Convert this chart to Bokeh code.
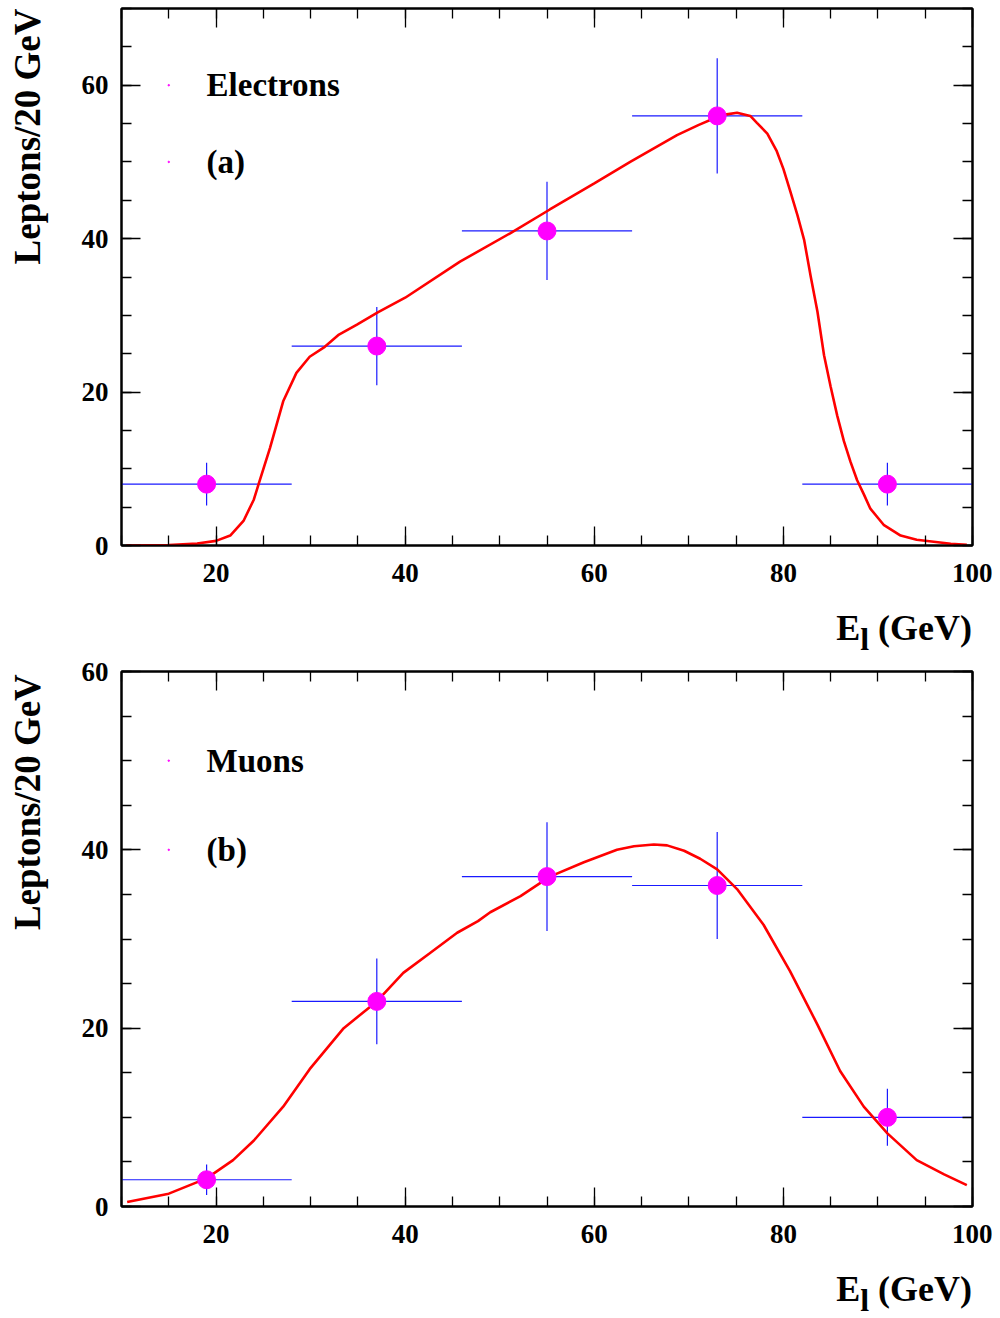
import numpy as np
from bokeh.plotting import figure
from bokeh.models import (LinearAxis, SingleIntervalTicker, Range1d, Label, Div,
                          CustomLabelingPolicy)
from bokeh.layouts import column, row
from bokeh.embed import file_html
from bokeh.resources import INLINE

# ---------------- data ----------------
bin_lo = [10, 28, 46, 64, 82]
bin_hi = [28, 46, 64, 82, 100]
bin_center = [19, 37, 55, 73, 91]

e_counts = [8, 26, 41, 56, 8]
e_err = [2.8, 5.1, 6.4, 7.5, 2.8]
mu_counts = [3, 23, 37, 36, 10]
mu_err = [1.7, 4.8, 6.1, 6.0, 3.2]

e_fit_x = [10.5, 15, 18, 20, 21.5, 22.9, 24.0, 24.5, 25.7, 27.1, 28.5, 29.9, 31.5, 33, 34.9,
           37.1, 40, 45.8, 51.1, 55.3, 60, 63.8, 68.75, 71, 73, 74, 75.1, 76.5, 77.2, 78.3,
           79.3, 80.0, 80.7, 81.5, 82.2, 82.9, 83.6, 84.3, 85.0, 85.7, 86.4, 87.1, 87.8, 88.5,
           89.2, 90.6, 92.4, 94.1, 97.7, 99.4]
e_fit_y = [0.0, 0.05, 0.25, 0.6, 1.3, 3.2, 6.0, 8.0, 12.7, 18.8, 22.5, 24.6, 25.9, 27.5, 28.8,
           30.4, 32.3, 37.0, 40.7, 43.8, 47.2, 50.0, 53.5, 54.8, 55.85, 56.2, 56.4, 56.0, 55.1, 53.7,
           51.4, 49.1, 46.3, 43.0, 39.8, 35.0, 30.5, 24.8, 20.7, 16.9, 13.6, 10.9, 8.5, 6.7,
           4.8, 2.7, 1.3, 0.75, 0.23, 0.1]

mu_fit_x = [10.6, 15, 19, 21.8, 24, 27.1, 29.9, 33.5, 37, 39.8, 42.6, 45.5, 47.7, 49, 52.2, 55.3,
            58.9, 62.4, 64.2, 66.3, 67.7, 69.5, 71.2, 73, 75.1, 77.9, 80.7, 83.6, 86, 88.5, 91,
            94.1, 97, 99.4]
mu_fit_y = [0.5, 1.44, 3.15, 5.2, 7.4, 11.2, 15.4, 20.0, 23.0, 26.2, 28.4, 30.7, 32.0, 33.0, 34.8,
            37.0, 38.6, 40.0, 40.4, 40.6, 40.5, 39.9, 39.0, 37.8, 35.6, 31.6, 26.4, 20.4, 15.2,
            11.2, 8.2, 5.2, 3.6, 2.4]

x_range = (10, 100)
e_y_range = (0, 70)
mu_y_range = (0, 60)

legend_e = ["Electrons", "(a)"]
legend_e_y = [60, 50]
legend_mu = ["Muons", "(b)"]
legend_mu_y = [50, 40]
legend_text_x = 19
legend_dot_x = 15

y_title = "Leptons/20 GeV"

FONT = "Liberation Serif"
W = 992
TITLE_W = 50          # width of the strip that carries the vertical axis title
B_BOTTOM = 45


def style_axis(ax, labels=True):
    ax.ticker = SingleIntervalTicker(interval=20, num_minor_ticks=4)
    ax.axis_line_color = "black"
    ax.axis_line_width = 2
    ax.major_tick_in = 19
    ax.major_tick_out = 0
    ax.minor_tick_in = 10
    ax.minor_tick_out = 0
    ax.major_tick_line_color = "black"
    ax.minor_tick_line_color = "black"
    ax.major_tick_line_width = 1.3
    ax.minor_tick_line_width = 1.3
    ax.axis_label = None
    if labels:
        ax.major_label_text_font = FONT
        ax.major_label_text_font_style = "bold"
        ax.major_label_text_font_size = "27px"
        ax.major_label_text_color = "black"
    else:
        ax.major_label_text_font_size = "1px"
        ax.major_label_standoff = 0
        ax.major_label_policy = CustomLabelingPolicy(code="return new Set()")


def make_panel(counts, errs, fit_x, fit_y, yr, legend_texts, legend_ys, b_top, frame_h):
    p = figure(width=W - TITLE_W, height=b_top + frame_h + B_BOTTOM,
               x_range=Range1d(*x_range), y_range=Range1d(*yr),
               output_backend="svg", toolbar_location=None,
               min_border_left=121 - TITLE_W, min_border_right=20,
               min_border_top=b_top, min_border_bottom=B_BOTTOM)
    p.xgrid.visible = False
    p.ygrid.visible = False
    p.outline_line_color = "black"
    p.outline_line_width = 2
    p.background_fill_color = "white"
    p.border_fill_color = "white"

    style_axis(p.xaxis[0])
    p.xaxis[0].major_label_standoff = 18
    style_axis(p.yaxis[0])
    p.yaxis[0].major_label_standoff = 13

    top_ax = LinearAxis()
    style_axis(top_ax, labels=False)
    p.add_layout(top_ax, "above")
    right_ax = LinearAxis()
    style_axis(right_ax, labels=False)
    p.add_layout(right_ax, "right")

    c = np.array(counts, dtype=float)
    e = np.array(errs, dtype=float)
    # horizontal bin-width bars
    p.segment(x0=bin_lo, y0=counts, x1=bin_hi, y1=counts, line_color="#1a1aff", line_width=1.2)
    # vertical statistical error bars
    p.segment(x0=bin_center, y0=list(c - e), x1=bin_center, y1=list(c + e),
              line_color="#1a1aff", line_width=1.2)
    # fit curve
    p.line(fit_x, fit_y, line_color="#ff0000", line_width=2.6)
    # data markers
    p.scatter(bin_center, counts, size=18, fill_color="#ff00ff", line_color="#ff00ff")

    # legend
    p.scatter([legend_dot_x] * len(legend_ys), legend_ys, size=1.5,
              fill_color="#ff00ff", line_color="#ff00ff")
    for t, yy in zip(legend_texts, legend_ys):
        p.add_layout(Label(x=legend_text_x, y=yy, text=t, text_font=FONT,
                           text_font_style="bold", text_font_size="33px",
                           text_baseline="middle", text_align="left", text_color="black"))
    return p


def y_title_strip(b_top, frame_h, lift):
    h = b_top + frame_h + B_BOTTOM
    s = figure(width=TITLE_W, height=h, x_range=Range1d(0, TITLE_W), y_range=Range1d(0, h),
               output_backend="svg", toolbar_location=None,
               x_axis_type=None, y_axis_type=None,
               min_border_left=0, min_border_right=0, min_border_top=0, min_border_bottom=0)
    s.xgrid.visible = False
    s.ygrid.visible = False
    s.outline_line_color = None
    s.background_fill_color = "white"
    s.border_fill_color = "white"
    # vertical title, reading upward, its end aligned with the top of the frame
    s.add_layout(Label(x=27, y=h - b_top + lift, text=y_title, angle=np.pi / 2,
                       text_align="right", text_baseline="alphabetic",
                       text_font=FONT, text_font_style="bold", text_font_size="37px",
                       text_color="black"))
    return s


def x_title_div(height):
    html = (
        '<div style="width:972px;height:%dpx;position:relative;'
        'font-family:\'Liberation Serif\';font-weight:bold;color:black;">'
        '<div style="position:absolute;right:0;top:20px;font-size:36px;line-height:36px;'
        'white-space:nowrap;">E<span style="font-size:32px;position:relative;top:10px;">l</span>'
        ' (GeV)</div></div>' % height
    )
    return Div(text=html, width=W, height=height, margin=(0, 0, 0, 0))


p1 = make_panel(e_counts, e_err, e_fit_x, e_fit_y, e_y_range, legend_e, legend_e_y,
                b_top=8, frame_h=537)
p2 = make_panel(mu_counts, mu_err, mu_fit_x, mu_fit_y, mu_y_range, legend_mu, legend_mu_y,
                b_top=18, frame_h=535)

layout = column(
    row(y_title_strip(8, 537, 8), p1, spacing=0),
    x_title_div(63),
    row(y_title_strip(18, 535, 15), p2, spacing=0),
    x_title_div(62),
    spacing=0,
)
open("out.html", "w").write(file_html(layout, INLINE))
